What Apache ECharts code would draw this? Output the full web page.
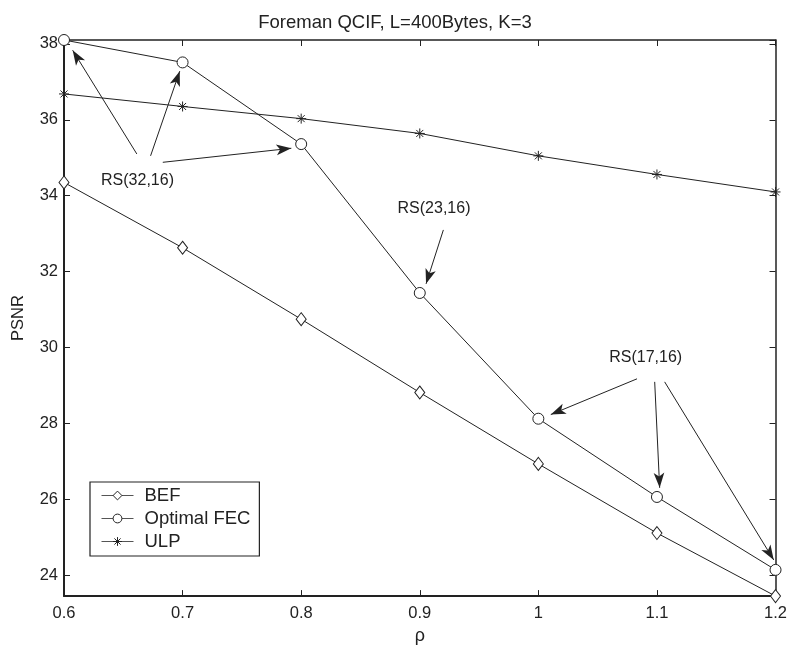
<!DOCTYPE html>
<html>
<head>
<meta charset="utf-8">
<title>Foreman QCIF PSNR</title>
<script src="https://cdn.jsdelivr.net/npm/echarts@6/dist/echarts.min.js"></script>
<style>
  html, body { margin: 0; padding: 0; background: #fff; }
  #chart { width: 790px; height: 650px; }
</style>
</head>
<body>
<div id="chart"></div>
<script>
// Channel load rho and the PSNR reached by each scheme
const rho = [0.6, 0.7, 0.8, 0.9, 1.0, 1.1, 1.2];
const psnrBEF = [34.35, 32.63, 30.75, 28.82, 26.94, 25.12, 23.46];
const psnrOptimalFEC = [38.1, 37.51, 35.36, 31.44, 28.13, 26.07, 24.15];
const psnrULP = [36.68, 36.35, 36.03, 35.64, 35.05, 34.56, 34.1];

const seriesNames = ['BEF', 'Optimal FEC', 'ULP'];

// Axis ranges (tight around the data, as in the original plot)
const xRange = [0.6, 1.2];
const xStep = 0.1;
const yRange = [23.46, 38.1];

// Code-rate annotations: label anchors and arrows [from, to] in data units
const rsLabels = [
  { name: 'RS(32,16)', at: [0.662, 34.40] },
  { name: 'RS(23,16)', at: [0.912, 33.67] },
  { name: 'RS(17,16)', at: [1.0905, 29.73] }
];
const rsArrows = [
  [[0.6614, 35.10], [0.6073, 37.83]],
  [[0.6730, 35.05], [0.6976, 37.28]],
  [[0.6833, 34.88], [0.7917, 35.25]],
  [[0.9199, 33.10], [0.9053, 31.68]],
  [[1.0832, 29.18], [1.0105, 28.24]],
  [[1.0981, 29.10], [1.1023, 26.31]],
  [[1.1065, 29.10], [1.1985, 24.41]]
];

const pairs = vals => rho.map((x, i) => [x, vals[i]]);

const ink = '#222';
const font = 'Liberation Sans, Arial, Helvetica, sans-serif';
const starPath = 'path://M5,0L5,10M0,5L10,5M1.5,1.5L8.5,8.5M1.5,8.5L8.5,1.5';

const chart = echarts.init(document.getElementById('chart'), null, { renderer: 'canvas' });

const xBase = {
  type: 'value', min: xRange[0], max: xRange[1], interval: xStep,
  splitLine: { show: false },
  axisLine: { lineStyle: { color: ink, width: 1.5 } },
  axisTick: { inside: true, length: 6, lineStyle: { color: ink, width: 1 } }
};
const yBase = {
  type: 'value', min: yRange[0], max: yRange[1], splitNumber: 7,
  splitLine: { show: false },
  axisLine: { lineStyle: { color: ink, width: 1.5 } },
  axisTick: { inside: true, length: 6, lineStyle: { color: ink, width: 1 } }
};

const lineSeries = (name, vals, symbol, size) => ({
  name, type: 'line', data: pairs(vals),
  xAxisIndex: 0, yAxisIndex: 0,
  symbol, symbolSize: size, showAllSymbol: true, clip: false,
  lineStyle: { color: ink, width: 1 },
  itemStyle: {
    color: symbol === starPath ? 'rgba(0,0,0,0)' : '#fff',
    borderColor: ink, borderWidth: 1
  },
  emphasis: { disabled: true },
  animation: false
});

const fec = lineSeries(seriesNames[1], psnrOptimalFEC, 'circle', 11);
fec.markLine = {
  silent: true, animation: false,
  symbol: ['none', 'arrow'], symbolSize: [8, 15],
  lineStyle: { color: ink, width: 1, type: 'solid' },
  label: { show: false },
  data: rsArrows.map(([a, b]) => [{ coord: a }, { coord: b }])
};
fec.markPoint = {
  silent: true, animation: false,
  symbol: 'circle', symbolSize: 1,
  itemStyle: { color: 'rgba(0,0,0,0)' },
  label: { show: true, position: 'inside', formatter: '{b}', color: ink, fontSize: 16, fontFamily: font },
  data: rsLabels.map(l => ({ name: l.name, coord: l.at }))
};

chart.setOption({
  backgroundColor: '#fff',
  animation: false,
  textStyle: { fontFamily: font },
  title: {
    text: 'Foreman QCIF, L=400Bytes, K=3',
    left: 'center', top: 8,
    textStyle: { fontSize: 18.5, fontWeight: 'normal', color: ink, fontFamily: font }
  },
  grid: { left: 64, right: 13, top: 40, bottom: 47, containLabel: false },
  legend: {
    orient: 'vertical', left: 90, top: 482,
    data: seriesNames,
    backgroundColor: '#fff', borderColor: ink, borderWidth: 1.2, borderRadius: 0,
    padding: [4, 9, 5, 11], itemGap: 4, itemWidth: 32, itemHeight: 11,
    lineStyle: { width: 1, color: '#555' },
    itemStyle: { borderWidth: 1 },
    textStyle: { fontSize: 18.5, color: ink, fontFamily: font, padding: [0, 0, 0, 6] }
  },
  xAxis: [
    Object.assign({}, xBase, {
      position: 'bottom', name: 'ρ', nameLocation: 'middle', nameGap: 29,
      nameTextStyle: { fontSize: 18, color: ink, fontFamily: font },
      axisLine: { lineStyle: { color: ink, width: 2 } },
      axisLabel: { color: ink, fontSize: 16.5, margin: 9, fontFamily: font }
    }),
    Object.assign({}, xBase, { position: 'top', axisLabel: { show: false } })
  ],
  yAxis: [
    Object.assign({}, yBase, {
      position: 'left', name: 'PSNR', nameLocation: 'middle', nameGap: 37,
      nameTextStyle: { fontSize: 16.5, color: ink, fontFamily: font },
      axisLine: { lineStyle: { color: ink, width: 2 } },
      axisLabel: { color: ink, fontSize: 16.5, margin: 6, fontFamily: font,
                   showMinLabel: false, showMaxLabel: false }
    }),
    Object.assign({}, yBase, { position: 'right', axisLabel: { show: false } })
  ],
  series: [
    lineSeries(seriesNames[0], psnrBEF, 'diamond', [10, 13]),
    fec,
    lineSeries(seriesNames[2], psnrULP, starPath, 10)
  ]
});
</script>
</body>
</html>
